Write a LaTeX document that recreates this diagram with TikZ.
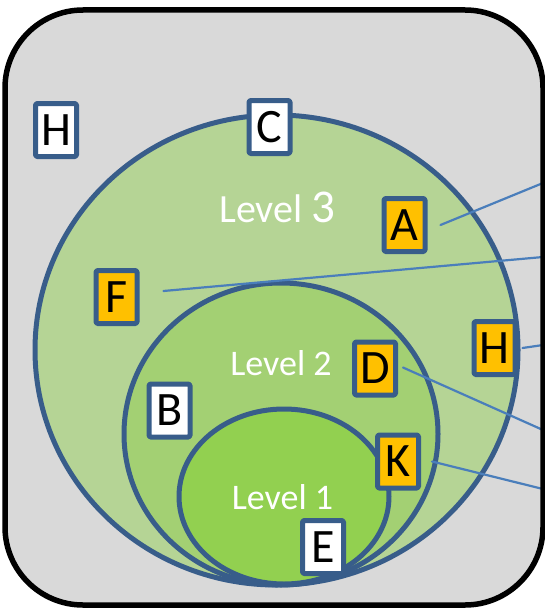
\documentclass[tikz,border=0pt]{standalone}
\usepackage{fontspec}
\setmainfont{Carlito}
\definecolor{panel}{RGB}{217,217,217}
\definecolor{rim}{RGB}{56,93,138}
\definecolor{wire}{RGB}{74,126,187}
\definecolor{lvthree}{RGB}{181,212,149}
\definecolor{lvtwo}{RGB}{163,208,115}
\definecolor{lvone}{RGB}{146,208,80}
\definecolor{amber}{RGB}{255,192,0}
\begin{document}
\begin{tikzpicture}[x=1pt,y=-1pt,line join=round,line cap=round,
    tag/.style={draw=rim,line width=5pt,rounded corners=1.5pt,fill=white,
      minimum width=41pt,minimum height=53pt,inner sep=0pt,
      font=\fontsize{48}{48}\selectfont},
    hot/.style={tag,fill=amber},
    ring/.style={draw=rim,line width=5pt},
    lvtext/.style={white,anchor=base,font=\fontsize{36}{36}\selectfont},
    wire/.style={draw=wire,line width=2.2pt}]
    \useasboundingbox (0,0) rectangle (545,610);
    \fill[panel,rounded corners=78pt] (5,10) rectangle (543,605);
    \draw[ring,fill=lvthree] (276.5,350) ellipse [x radius=241.5,y radius=235];
    \draw[ring,fill=lvtwo] (281,434) ellipse [x radius=157,y radius=151];
    \draw[ring,fill=lvone] (284,496.5) ellipse [x radius=105,y radius=87.5];
    \node[lvtext,font=\fontsize{40}{40}\selectfont] (lv3) at (277.5,222) {Level {\fontsize{47}{47}\selectfont 3}};
    \node[lvtext] (lv2) at (281,375) {Level 2};
    \node[lvtext] (lv1) at (282.5,509) {Level 1};
    % tags
    \node[tag] (H1) at (56,130) {H};
    \node[tag] (C) at (269.5,127) {C};
    \node[hot] (A) at (404.5,225) {A};
    \node[hot] (F) at (116.5,297) {F};
    \node[hot] (H2) at (494.5,348) {H};
    \node[hot] (D) at (375,368.5) {D};
    \node[tag] (B) at (169.5,410.5) {B};
    \node[hot] (K) at (398,461.5) {K};
    \node[tag] (E) at (323,547) {E};
    % free ends on the frame
    \coordinate (eA) at (543,183);
    \coordinate (eF) at (543,257);
    \coordinate (eH) at (543,345);
    \coordinate (eD) at (543,430);
    \coordinate (eK) at (543,489);
    \draw[wire] ([xshift=13pt]A.east) -- (eA);
    \draw[wire] ([xshift=24pt,yshift=6pt]F.east) -- (eF);
    \draw[wire] ([xshift=5pt]H2.east) -- (eH);
    \draw[wire] ([xshift=5pt,yshift=1pt]D.east) -- (eD);
    \draw[wire] ([xshift=11pt]K.east) -- (eK);
    \draw[line width=5.5pt,rounded corners=78pt] (5,10) rectangle (543,605);
\end{tikzpicture}
\end{document}
